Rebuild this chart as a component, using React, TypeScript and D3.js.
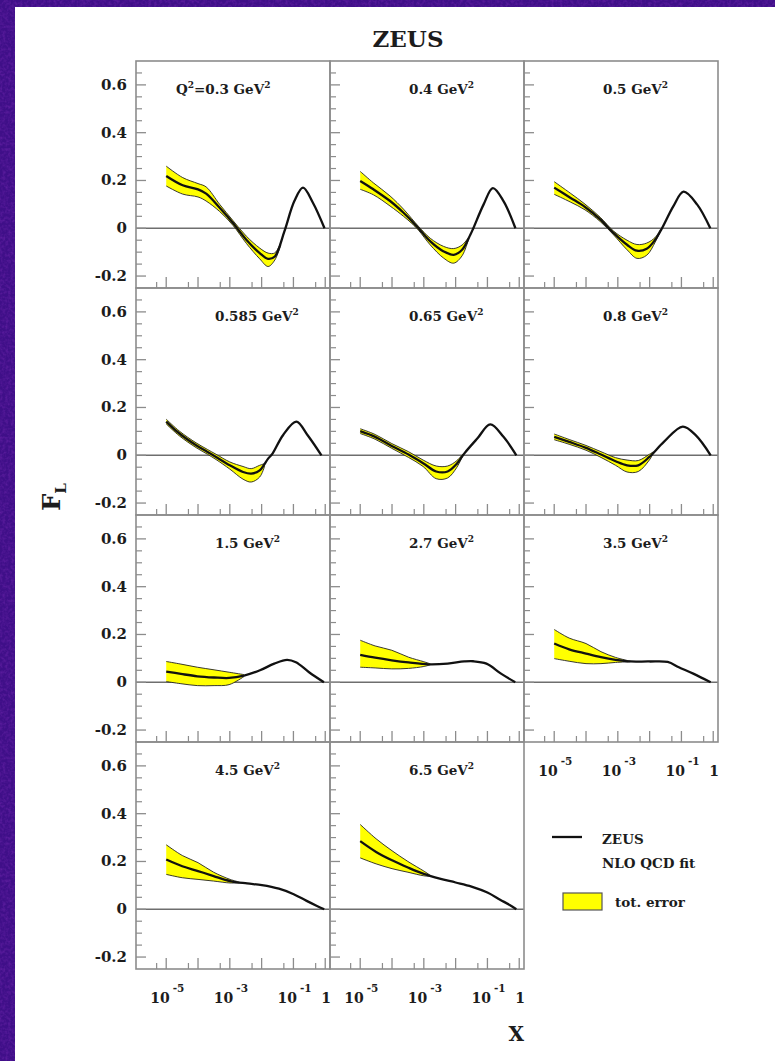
import React from 'react';
import * as d3 from 'd3';

// ---------- data ----------
const q2Labels = ['0.3', '0.4', '0.5', '0.585', '0.65', '0.8', '1.5', '2.7', '3.5', '4.5', '6.5'];

// central NLO QCD fit: [x, F_L]
const fit03 = [[1e-5, 0.219], [3.3e-5, 0.18], [1e-4, 0.163], [1.8e-4, 0.145], [4.8e-4, 0.086], [1.26e-3, 0.022], [3.3e-3, -0.048], [8.7e-3, -0.104], [1.6e-2, -0.128], [2.6e-2, -0.118], [5.2e-2, -0.013], [0.107, 0.114], [0.2, 0.17], [0.41, 0.107], [0.95, 0]];
const fit04 = [[1e-5, 0.198], [2.6e-5, 0.163], [8.7e-5, 0.114], [2.3e-4, 0.065], [4.2e-4, 0.03], [6.8e-4, 0], [1.6e-3, -0.055], [4.2e-3, -0.097], [8.7e-3, -0.111], [1.6e-2, -0.09], [2.9e-2, -0.027], [3.6e-2, 0], [7.6e-2, 0.1], [0.148, 0.168], [0.32, 0.114], [0.76, 0]];
const fit05 = [[1e-5, 0.17], [3.2e-5, 0.128], [9.3e-5, 0.089], [2.8e-4, 0.037], [7.4e-4, -0.02], [1.95e-3, -0.069], [4e-3, -0.094], [8.1e-3, -0.086], [1.5e-2, -0.048], [2.45e-2, 0], [5.6e-2, 0.093], [0.117, 0.153], [0.31, 0.1], [0.81, 0]];
const fit0585 = [[1e-5, 0.141], [2.6e-5, 0.091], [8.7e-5, 0.042], [2e-4, 0.014], [3.7e-4, -0.007], [1e-3, -0.042], [2.6e-3, -0.07], [4.7e-3, -0.077], [8.7e-3, -0.063], [1.6e-2, -0.014], [2.2e-2, 0.007], [4.7e-2, 0.084], [0.123, 0.141], [0.28, 0.084], [0.76, 0]];
const fit065 = [[1e-5, 0.101], [2.95e-5, 0.077], [9.8e-5, 0.039], [3.3e-4, 0.003], [9.5e-4, -0.033], [2.45e-3, -0.068], [5.6e-3, -0.068], [1.1e-2, -0.035], [1.86e-2, 0.007], [4.8e-2, 0.07], [0.123, 0.129], [0.32, 0.077], [0.81, 0]];
const fit08 = [[1e-5, 0.077], [2.95e-5, 0.056], [1e-4, 0.031], [2.95e-4, 0.003], [8.5e-4, -0.025], [1.95e-3, -0.042], [4.4e-3, -0.042], [9.8e-3, -0.007], [2.8e-2, 0.056], [0.11, 0.12], [0.28, 0.084], [0.83, 0]];
const fit15 = [[1e-5, 0.045], [2.9e-5, 0.035], [9.5e-5, 0.025], [3.2e-4, 0.02], [9.5e-4, 0.018], [2.8e-3, 0.028], [8.5e-3, 0.049], [2.5e-2, 0.078], [6.3e-2, 0.094], [0.12, 0.084], [0.31, 0.042], [0.91, 0]];
const fit27 = [[1e-5, 0.115], [2.95e-5, 0.103], [9.8e-5, 0.092], [3.3e-4, 0.083], [1.45e-3, 0.075], [5.6e-3, 0.078], [1.86e-2, 0.087], [3.6e-2, 0.088], [9.3e-2, 0.078], [0.275, 0.035], [0.75, 0]];
const fit35 = [[1e-5, 0.162], [2.95e-5, 0.138], [1e-4, 0.12], [2.95e-4, 0.105], [8.5e-4, 0.094], [2.5e-3, 0.087], [9.8e-3, 0.087], [3.7e-2, 0.085], [8.3e-2, 0.063], [0.245, 0.035], [0.83, 0]];
const fit45 = [[1e-5, 0.208], [3.2e-5, 0.18], [1e-4, 0.16], [3.1e-4, 0.139], [1.02e-3, 0.118], [3.5e-3, 0.108], [1.02e-2, 0.101], [3.5e-2, 0.086], [0.102, 0.063], [0.26, 0.035], [0.55, 0.014], [0.93, 0]];
const fit65 = [[1e-5, 0.285], [3.16e-5, 0.24], [1e-4, 0.205], [3.16e-4, 0.175], [1e-3, 0.148], [3.16e-3, 0.128], [1e-2, 0.112], [3.16e-2, 0.095], [0.1, 0.07], [0.25, 0.04], [0.5, 0.018], [0.81, 0]];

// total error band: [x, low, high]
const err03 = [[1e-5, 0.177, 0.26], [3.3e-5, 0.143, 0.212], [1e-4, 0.131, 0.187], [1.8e-4, 0.114, 0.173], [4.8e-4, 0.07, 0.1], [1.26e-3, 0.012, 0.032], [3.3e-3, -0.063, -0.033], [8.7e-3, -0.128, -0.083], [1.6e-2, -0.16, -0.104], [2.6e-2, -0.133, -0.103], [4e-2, -0.07, -0.06]];
const err04 = [[1e-5, 0.163, 0.238], [2.6e-5, 0.14, 0.19], [8.7e-5, 0.093, 0.135], [2.3e-4, 0.05, 0.08], [4.2e-4, 0.02, 0.04], [6.8e-4, -0.008, 0.008], [1.6e-3, -0.07, -0.042], [4.2e-3, -0.125, -0.076], [8.7e-3, -0.146, -0.085], [1.6e-2, -0.115, -0.07], [2.5e-2, -0.05, -0.04]];
const err05 = [[1e-5, 0.142, 0.195], [3.2e-5, 0.11, 0.147], [9.3e-5, 0.077, 0.101], [2.8e-4, 0.028, 0.046], [7.4e-4, -0.028, -0.012], [1.95e-3, -0.09, -0.05], [4e-3, -0.126, -0.068], [8.1e-3, -0.113, -0.062], [1.5e-2, -0.058, -0.038], [2.2e-2, -0.01, -0.004]];
const err0585 = [[1e-5, 0.131, 0.151], [2.6e-5, 0.081, 0.101], [8.7e-5, 0.032, 0.052], [2e-4, 0.004, 0.024], [3.7e-4, -0.018, 0.004], [1e-3, -0.058, -0.028], [2.6e-3, -0.1, -0.047], [4.7e-3, -0.112, -0.056], [8.7e-3, -0.091, -0.042], [1.25e-2, -0.045, -0.035]];
const err065 = [[1e-5, 0.091, 0.111], [2.95e-5, 0.067, 0.087], [9.8e-5, 0.029, 0.049], [3.3e-4, -0.009, 0.015], [9.5e-4, -0.047, -0.02], [2.45e-3, -0.098, -0.045], [5.6e-3, -0.095, -0.045], [1.1e-2, -0.05, -0.022], [1.7e-2, 0.0, 0.006]];
const err08 = [[1e-5, 0.065, 0.089], [2.95e-5, 0.046, 0.066], [1e-4, 0.021, 0.041], [2.95e-4, -0.009, 0.015], [8.5e-4, -0.042, -0.01], [1.95e-3, -0.07, -0.02], [4.4e-3, -0.068, -0.022], [9.8e-3, -0.02, 0.004], [1.3e-2, 0.008, 0.014]];
const err15 = [[1e-5, 0.003, 0.087], [2.9e-5, -0.006, 0.076], [9.5e-5, -0.014, 0.063], [3.2e-4, -0.014, 0.052], [9.5e-4, -0.01, 0.042], [2.8e-3, 0.024, 0.032]];
const err27 = [[1e-5, 0.063, 0.176], [2.95e-5, 0.06, 0.152], [9.8e-5, 0.056, 0.134], [3.3e-4, 0.058, 0.105], [1e-3, 0.066, 0.086], [1.6e-3, 0.073, 0.077]];
const err35 = [[1e-5, 0.099, 0.221], [2.95e-5, 0.088, 0.185], [1e-4, 0.078, 0.162], [2.95e-4, 0.078, 0.128], [8.5e-4, 0.083, 0.104], [2.5e-3, 0.086, 0.088]];
const err45 = [[1e-5, 0.146, 0.27], [3.2e-5, 0.132, 0.225], [1e-4, 0.125, 0.195], [3.1e-4, 0.118, 0.155], [1.02e-3, 0.11, 0.125], [2e-3, 0.111, 0.114]];
const err65 = [[1e-5, 0.215, 0.355], [3.16e-5, 0.19, 0.295], [1e-4, 0.17, 0.245], [3.16e-4, 0.155, 0.2], [1e-3, 0.14, 0.16], [1.6e-3, 0.138, 0.142]];

const fits = [fit03, fit04, fit05, fit0585, fit065, fit08, fit15, fit27, fit35, fit45, fit65];
const errs = [err03, err04, err05, err0585, err065, err08, err15, err27, err35, err45, err65];

const yMajorTicks = [-0.2, 0, 0.2, 0.4, 0.6];
const yMinorTicks = [-0.15, -0.1, -0.05, 0.05, 0.1, 0.15, 0.25, 0.3, 0.35, 0.45, 0.5, 0.55, 0.65];
const yTickLabels = ['-0.2', '0', '0.2', '0.4', '0.6'];
const xMajorTicks = [1e-5, 1e-4, 1e-3, 1e-2, 1e-1, 1];
const xMinorTicks = [5e-6, 5e-5, 5e-4, 5e-3, 5e-2, 5e-1];
const xLabelTicks = [1e-5, 1e-3, 1e-1];
const xLabelExps = ['-5', '-3', '-1'];

// ---------- layout ----------
const W = 775;
const H = 1061;
const colLefts = [136, 330, 524];
const colW = 194;
const rowTops = [61, 288, 515, 742];
const rowH = 227;
const FONT = '"DejaVu Serif", "Liberation Serif", serif';
const TXT = '#1c1c1c';
const FRAME = '#8c8c8c';

function Panel({ i }: { i: number }) {
  const row = Math.floor(i / 3);
  const col = i % 3;
  const L = colLefts[col];
  const T = rowTops[row];
  const x = d3.scaleLog().domain([Math.pow(10, -5.95), Math.pow(10, 0.15)]).range([L, L + colW]);
  const y = d3.scaleLinear().domain([-0.25, 0.7]).range([T + rowH, T]);
  const curve = d3.curveCatmullRom.alpha(0.5);
  const line = d3.line<number[]>().x(d => x(d[0])).y(d => y(d[1])).curve(curve);
  const area = d3.area<number[]>().x(d => x(d[0])).y0(d => y(d[1])).y1(d => y(d[2])).curve(curve);
  const lower = d3.line<number[]>().x(d => x(d[0])).y(d => y(d[1])).curve(curve);
  const upper = d3.line<number[]>().x(d => x(d[0])).y(d => y(d[2])).curve(curve);
  const bottom = T + rowH;
  const showXLabels = row === 3 || i === 8;
  const labelX = L + (i === 0 ? 40 : 79);
  return (
    <g>
      <line x1={L} x2={L + colW} y1={y(0)} y2={y(0)} stroke="#6e6e6e" strokeWidth={1.4} />
      <path d={area(errs[i]) || ''} fill="#ffff00" stroke="none" />
      <path d={lower(errs[i]) || ''} fill="none" stroke="#222" strokeWidth={0.9} />
      <path d={upper(errs[i]) || ''} fill="none" stroke="#222" strokeWidth={0.9} />
      <path d={line(fits[i]) || ''} fill="none" stroke="#111" strokeWidth={2.3} strokeLinejoin="round" />
      {/* frame */}
      <rect x={L} y={T} width={colW} height={rowH} fill="none" stroke={FRAME} strokeWidth={1.6} />
      {/* y ticks */}
      {yMajorTicks.map(v => (
        <line key={'ym' + v} x1={L} x2={L + 10} y1={y(v)} y2={y(v)} stroke={FRAME} strokeWidth={1.3} />
      ))}
      {yMinorTicks.map(v => (
        <line key={'yn' + v} x1={L} x2={L + 6} y1={y(v)} y2={y(v)} stroke={FRAME} strokeWidth={1.2} />
      ))}
      {/* x ticks */}
      {xMajorTicks.map(v => (
        <line key={'xm' + v} x1={x(v)} x2={x(v)} y1={bottom} y2={bottom - 11} stroke={FRAME} strokeWidth={1.3} />
      ))}
      {xMinorTicks.map(v => (
        <line key={'xn' + v} x1={x(v)} x2={x(v)} y1={bottom} y2={bottom - 6} stroke={FRAME} strokeWidth={1.2} />
      ))}
      {col === 0 &&
        yMajorTicks.map((v, k) => (
          <text key={'yl' + v} x={L - 9} y={y(v) + 5} textAnchor="end" fontFamily={FONT} fontWeight="bold" fontSize={15} fill={TXT}>
            {yTickLabels[k]}
          </text>
        ))}
      {showXLabels && (
        <g fontFamily={FONT} fontWeight="bold" fill={TXT}>
          {xLabelTicks.map((v, k) => (
            <text key={'xl' + v} x={x(v) - 16} y={bottom + 34} fontSize={14}>
              10
              <tspan dx={3} dy={-11} fontSize={10.5}>
                {xLabelExps[k]}
              </tspan>
            </text>
          ))}
          <text x={x(1) + 1} y={bottom + 34} fontSize={14} textAnchor="middle">
            1
          </text>
        </g>
      )}
      <text x={labelX} y={T + 33} fontFamily={FONT} fontWeight="bold" fontSize={13.5} fill={TXT}>
        {i === 0 ? (
          <>
            Q<tspan dy={-6} fontSize={9}>2</tspan>
            <tspan dy={6}>={q2Labels[i]} GeV</tspan>
            <tspan dy={-6} fontSize={9}>2</tspan>
          </>
        ) : (
          <>
            {q2Labels[i]} GeV<tspan dy={-6} fontSize={9}>2</tspan>
          </>
        )}
      </text>
    </g>
  );
}

export default function App() {
  return (
    <svg width={W} height={H} style={{ position: 'absolute', left: 0, top: 0, display: 'block' }} xmlns="http://www.w3.org/2000/svg">
      <defs>
        <filter id="noise" x="0" y="0" width="100%" height="100%">
          <feTurbulence type="fractalNoise" baseFrequency="0.35" numOctaves={2} seed={4} result="t" />
          <feColorMatrix type="matrix" values="0 0 0 0 0.16  0 0 0 0 0.02  0 0 0 0 0.42  0 0 0 1.6 -0.6" />
        </filter>
      </defs>
      <rect x={0} y={0} width={W} height={H} fill="#3f0f88" />
      <rect x={0} y={0} width={W} height={H} filter="url(#noise)" opacity={0.7} />
      <rect x={15} y={7} width={W - 15} height={H - 7} fill="#ffffff" />
      <text x={408} y={47} textAnchor="middle" fontFamily={FONT} fontWeight="bold" fontSize={23} fill={TXT}>
        ZEUS
      </text>
      {q2Labels.map((_, i) => (
        <Panel key={i} i={i} />
      ))}
      {/* y-axis title */}
      <text transform="translate(60,497) rotate(-90)" textAnchor="middle" fontFamily={FONT} fontWeight="bold" fontSize={24} fill={TXT}>
        F<tspan dy={6} fontSize={15}>L</tspan>
      </text>
      {/* x-axis title */}
      <text x={524} y={1041} textAnchor="end" fontFamily={FONT} fontWeight="bold" fontSize={20} fill={TXT}>
        X
      </text>
      {/* legend */}
      <line x1={552} x2={582} y1={837} y2={837} stroke="#111" strokeWidth={2.3} />
      <text x={602} y={844} fontFamily={FONT} fontWeight="bold" fontSize={13.5} fill={TXT}>
        ZEUS
      </text>
      <text x={602} y={868} fontFamily={FONT} fontWeight="bold" fontSize={13.5} fill={TXT}>
        NLO QCD fit
      </text>
      <rect x={563} y={893} width={39} height={17} fill="#ffff00" stroke="#555" strokeWidth={1.2} />
      <text x={615} y={907} fontFamily={FONT} fontWeight="bold" fontSize={13.5} fill={TXT}>
        tot. error
      </text>
    </svg>
  );
}
